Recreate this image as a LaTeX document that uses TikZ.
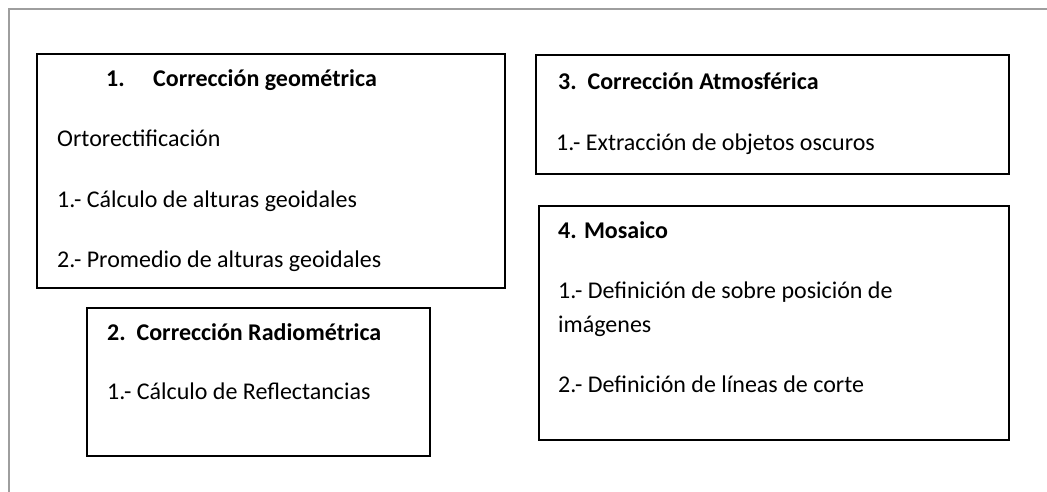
\documentclass[tikz,border=0pt]{standalone}
\usepackage{fontspec}
\setmainfont{Carlito}
\begin{document}
\begin{tikzpicture}[x=1pt,y=-1pt,
  caja/.style={draw=black, line width=1.6pt, anchor=north west, inner sep=0pt},
  texto/.style={anchor=base west, inner sep=0pt, font=\fontsize{24}{28}\selectfont},
  titulo/.style={texto, font=\fontsize{24}{28}\selectfont\bfseries}]
\useasboundingbox (0,0) rectangle (1047,492);
% marco exterior
\draw[color=black!38, line width=2.2pt] (9,492) -- (9,9) -- (1047,9);
% cajas
\node[caja, minimum width=468pt, minimum height=234pt] (geom) at (36,53) {};
\node[caja, minimum width=343pt, minimum height=148pt] (radio) at (86,307) {};
\node[caja, minimum width=473pt, minimum height=119pt] (atmos) at (535,54) {};
\node[caja, minimum width=470pt, minimum height=234pt] (mosa) at (538,205) {};
% 1. correccion geometrica
\node[titulo] (geom-t) at (106,87) {\makebox[47pt][l]{1.}Corrección geométrica};
\node[texto] (geom-a) at (57,147) {Ortorectificación};
\node[texto] (geom-b) at (57,207) {1.- Cálculo de alturas geoidales};
\node[texto] (geom-c) at (57,267) {2.- Promedio de alturas geoidales};
% 2. correccion radiometrica
\node[titulo] (radio-t) at (107,340) {2.\ \ Corrección Radiométrica};
\node[texto] (radio-a) at (107,399) {1.- Cálculo de Reflectancias};
% 3. correccion atmosferica
\node[titulo] (atmos-t) at (558,90) {3.\ \ Corrección Atmosférica};
\node[texto] (atmos-a) at (556,150) {1.- Extracción de objetos oscuros};
% 4. mosaico
\node[titulo] (mosa-t) at (558,238) {4. Mosaico};
\node[texto] (mosa-a) at (558,298) {1.- Definición de sobre posición de};
\node[texto] (mosa-b) at (558,332) {imágenes};
\node[texto] (mosa-c) at (558,392) {2.- Definición de líneas de corte};
\end{tikzpicture}
\end{document}
